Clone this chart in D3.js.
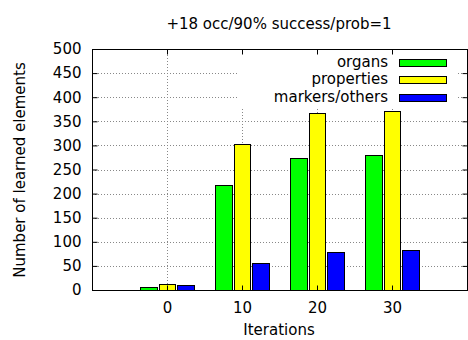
<!DOCTYPE html>
<html><head><meta charset="utf-8">
<script src="https://cdn.jsdelivr.net/npm/d3@7/dist/d3.min.js"></script>
<style>body{margin:0;background:#fff}svg{display:block}text{font-family:"DejaVu Sans",sans-serif;fill:#000}</style>
</head><body><svg id="c" width="468" height="340"></svg>
<script>
const iterations = [0, 10, 20, 30];
const organs = [7, 217, 274, 280];
const properties = [12, 303, 368, 371];
const markers = [11, 57, 79, 82];
const seriesNames = ["organs", "properties", "markers/others"];
const seriesColors = ["#00ff00", "#ffff00", "#0000ff"];
const yTicks = [0, 50, 100, 150, 200, 250, 300, 350, 400, 450, 500];
const title = "+18 occ/90% success/prob=1";
const FONT = '"DejaVu Sans",sans-serif';
const FS = "15px";

const svg = d3.select("#c");
const L = 92, R = 467, T = 49, B = 290;
const x = d3.scaleLinear().domain([-10, 40]).range([L, R]);
const y = d3.scaleLinear().domain([0, 500]).range([B, T]);
const series = [organs, properties, markers];
const barOff = [-2.5, 0, 2.5];
const barW = 2.25;

const grid = svg.append("g").attr("stroke", "#888").attr("stroke-width", 1).attr("stroke-dasharray", "1,2");
yTicks.slice(1, -1).forEach(v => {
  grid.append("line").attr("x1", L).attr("x2", R).attr("y1", Math.round(y(v)) + 0.5).attr("y2", Math.round(y(v)) + 0.5);
});
iterations.forEach(v => {
  grid.append("line").attr("y1", T).attr("y2", B).attr("x1", Math.round(x(v)) + 0.5).attr("x2", Math.round(x(v)) + 0.5);
});

// legend background hides grid
svg.append("rect").attr("x", 237).attr("y", T + 1).attr("width", 219).attr("height", 58).attr("fill", "#fff");

// bars
series.forEach((s, i) => {
  svg.append("g").selectAll("rect").data(s).join("rect")
    .attr("x", (d, j) => Math.round(x(iterations[j] + barOff[i] - barW / 2)) + 0.5)
    .attr("width", (d, j) => Math.round(x(iterations[j] + barOff[i] + barW / 2)) - Math.round(x(iterations[j] + barOff[i] - barW / 2)))
    .attr("y", d => Math.round(y(d)) + 0.5)
    .attr("height", d => B - Math.round(y(d)))
    .attr("fill", seriesColors[i]).attr("stroke", "#000").attr("stroke-width", 1);
});

// frame
svg.append("rect").attr("x", L + 0.5).attr("y", T + 0.5).attr("width", R - L).attr("height", B - T)
  .attr("fill", "none").attr("stroke", "#000").attr("stroke-width", 1);

// axes
const yAxis = svg.append("g").attr("transform", `translate(${L + 0.5},0)`)
  .call(d3.axisLeft(y).tickValues(yTicks).tickSize(-5).tickPadding(11));
const yAxisR = svg.append("g").attr("transform", `translate(${R + 0.5},0)`)
  .call(d3.axisRight(y).tickValues(yTicks).tickSize(-5).tickFormat(""));
const xAxis = svg.append("g").attr("transform", `translate(0,${B + 0.5})`)
  .call(d3.axisBottom(x).tickValues(iterations).tickSize(-5).tickPadding(12));
const xAxisT = svg.append("g").attr("transform", `translate(0,${T + 0.5})`)
  .call(d3.axisTop(x).tickValues(iterations).tickSize(-5).tickFormat(""));
[yAxis, yAxisR, xAxis, xAxisT].forEach(a => {
  a.select(".domain").remove();
  a.selectAll("text").style("font-size", FS).style("font-family", FONT);
});

// legend
const lg = svg.append("g");
seriesNames.forEach((n, i) => {
  const top = 59 + i * 17.3;
  lg.append("text").attr("x", 388).attr("y", top + 8).attr("text-anchor", "end").style("font-size", FS).text(n);
  lg.append("rect").attr("x", 399.5).attr("y", Math.round(top) + 0.5).attr("width", 47).attr("height", 7)
    .attr("fill", seriesColors[i]).attr("stroke", "#000");
});

svg.append("text").attr("x", 279).attr("y", 29).attr("text-anchor", "middle").style("font-size", FS).text(title);
svg.append("text").attr("x", 279).attr("y", 335).attr("text-anchor", "middle").style("font-size", FS).text("Iterations");
svg.append("text").attr("transform", "translate(25,170) rotate(-90)").attr("text-anchor", "middle").style("font-size", FS).text("Number of learned elements");
</script></body></html>
